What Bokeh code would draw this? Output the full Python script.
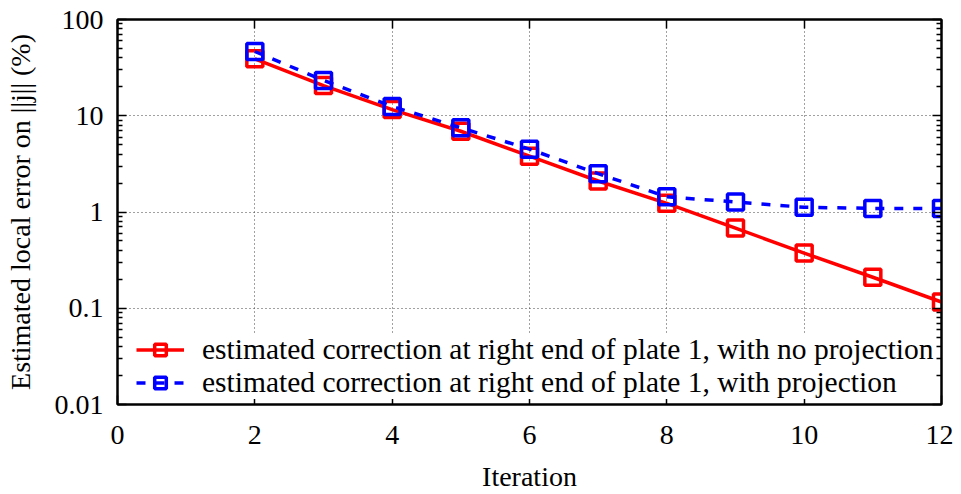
from bokeh.plotting import figure
from bokeh.models import (Range1d, LogAxis, LinearAxis, FixedTicker, CustomJSTickFormatter,
                          Legend, LegendItem)
from bokeh.embed import file_html
from bokeh.resources import INLINE

iterations = [2, 3, 4, 5, 6, 7, 8, 9, 10, 11, 12]
no_projection = [39.0, 20.6, 11.6, 6.9, 3.8, 2.1, 1.23, 0.68, 0.374, 0.21, 0.116]
with_projection = [46.5, 23.3, 12.5, 7.5, 4.5, 2.5, 1.44, 1.27, 1.12, 1.09, 1.09]
x_ticks = [0, 2, 4, 6, 8, 10, 12]
y_ticks = [0.01, 0.1, 1, 10, 100]
label_no = "estimated correction at right end of plate 1, with no projection"
label_with = "estimated correction at right end of plate 1, with projection"

FONT = "Liberation Serif"
minor_y = [m * d for d in [0.01, 0.1, 1, 10] for m in range(2, 10)]

p = figure(width=953, height=494, output_backend="svg", toolbar_location=None,
           x_range=Range1d(0, 12), y_range=Range1d(0.01, 100), y_axis_type="log",
           min_border_left=117, min_border_right=12, min_border_top=19, min_border_bottom=90)
p.background_fill_color = "white"
p.outline_line_color = "black"
p.outline_line_width = 2

yfmt = CustomJSTickFormatter(code="return Number(tick.toPrecision(3)).toString();")

def style_axis(ax, labels=True):
    ax.axis_line_color = "black"
    ax.axis_line_width = 2
    ax.major_tick_in = 9
    ax.major_tick_out = 0
    ax.minor_tick_in = 5
    ax.minor_tick_out = 0
    ax.major_tick_line_width = 1.5
    ax.minor_tick_line_width = 1.5
    ax.major_label_text_font = FONT
    ax.major_label_text_color = "black"
    ax.axis_label_text_font = FONT
    ax.axis_label_text_font_style = "normal"
    ax.axis_label_text_color = "black"
    if labels:
        ax.major_label_text_font_size = "28px"
        ax.axis_label_text_font_size = "28px"
    else:
        ax.major_label_text_font_size = "1px"
        ax.major_label_text_color = None
        ax.major_label_standoff = 0

xax = p.xaxis[0]
xax.ticker = FixedTicker(ticks=x_ticks, minor_ticks=[])
xax.axis_label = "Iteration"
style_axis(xax)
xax.major_label_standoff = 21
xax.axis_label_standoff = 14

yax = p.yaxis[0]
yax.ticker = FixedTicker(ticks=y_ticks, minor_ticks=minor_y)
yax.formatter = yfmt
yax.axis_label = "Estimated local error on ||j|| (%)"
style_axis(yax)
yax.major_label_standoff = 14
yax.axis_label_standoff = 16

top = LinearAxis(ticker=FixedTicker(ticks=x_ticks, minor_ticks=[]))
style_axis(top, labels=False)
p.add_layout(top, "above")
right = LogAxis(ticker=FixedTicker(ticks=y_ticks, minor_ticks=minor_y), formatter=yfmt)
style_axis(right, labels=False)
p.add_layout(right, "right")

p.xgrid.ticker = FixedTicker(ticks=[2, 4, 6, 8, 10])
p.ygrid.ticker = FixedTicker(ticks=[0.1, 1, 10])
for g in (p.xgrid[0], p.ygrid[0]):
    g.grid_line_color = "#444444"
    g.grid_line_dash = "1 3"
    g.grid_line_width = 1

r1l = p.line(iterations, no_projection, line_color="#ff0000", line_width=3.5)
r1m = p.scatter(iterations, no_projection, marker="square", size=16, fill_color=None,
                line_color="#ff0000", line_width=3.5)
r2l = p.line(iterations, with_projection, line_color="#0000ff", line_width=3.5, line_dash="9 10")
r2m = p.scatter(iterations, with_projection, marker="square", size=16, fill_color=None,
                line_color="#0000ff", line_width=3.5)

legend = Legend(items=[LegendItem(label=label_no, renderers=[r1l, r1m]),
                       LegendItem(label=label_with, renderers=[r2l, r2m])],
                location=(19, 5), orientation="vertical")
legend.label_text_font = FONT
legend.label_text_font_size = "29.5px"
legend.label_text_color = "black"
legend.glyph_width = 48
legend.glyph_height = 29
legend.label_height = 29
legend.label_standoff = 18
legend.spacing = -11
legend.padding = 0
legend.margin = 0
legend.border_line_color = None
legend.background_fill_color = "white"
legend.background_fill_alpha = 1.0
p.add_layout(legend, "center")

open("out.html", "w").write(file_html(p, INLINE))
